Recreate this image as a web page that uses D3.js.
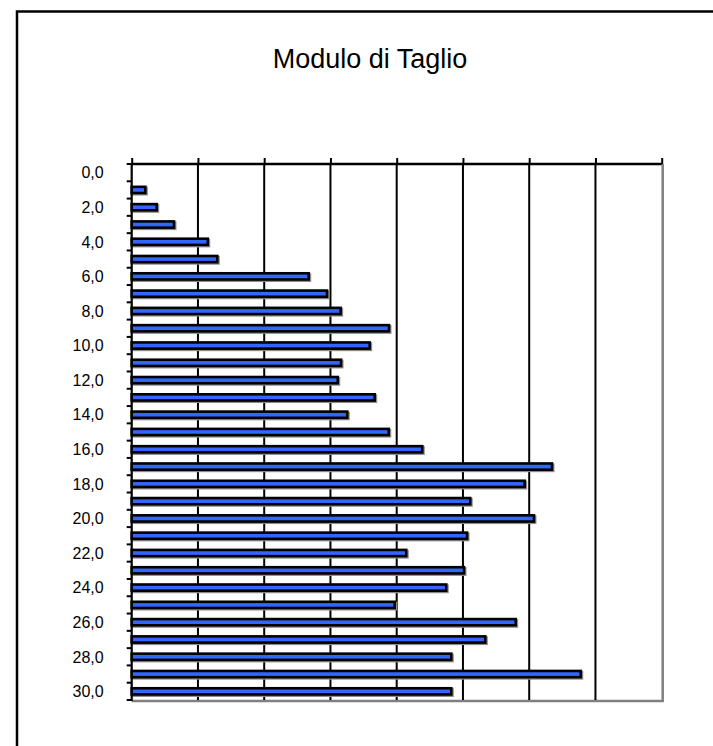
<!DOCTYPE html>
<html>
<head>
<meta charset="utf-8">
<script src="https://cdn.jsdelivr.net/npm/d3@7"></script>
<style>
  html, body { margin: 0; padding: 0; background: #fff; }
  svg { display: block; }
</style>
</head>
<body>
<script>
// Depth categories (m), one band each; labels on every second one
const depths = d3.range(0, 31);
const depthLabels = ["0,0","2,0","4,0","6,0","8,0","10,0","12,0","14,0","16,0","18,0","20,0","22,0","24,0","26,0","28,0","30,0"];
// Shear modulus per depth (no reading at 0 m)
const modulus = [null, 10.3, 18.9, 31.9, 57.4, 64.6, 133.6, 147.4, 157.7, 194.2, 179.6,
                 158.0, 155.5, 183.4, 162.7, 194.0, 219.3, 317.2, 296.6, 255.5, 303.6,
                 253.1, 207.2, 250.8, 237.4, 198.5, 289.8, 266.9, 241.2, 338.9, 241.2];
const gridValues = [0, 50, 100, 150, 200, 250, 300, 350, 400];

const W = 713, H = 746;
const plot = { left: 131.7, right: 661.7, top: 164, bottom: 700 };

const svg = d3.select("body").append("svg").attr("width", W).attr("height", H);

// Outer chart frame
svg.append("path")
  .attr("d", `M17,${H + 5} L17,11.5 L${W + 5},11.5`)
  .attr("fill", "none").attr("stroke", "#000").attr("stroke-width", 2.5);

svg.append("text")
  .attr("x", 370).attr("y", 68)
  .attr("text-anchor", "middle")
  .attr("font-family", "Arial, 'Liberation Sans', sans-serif")
  .attr("font-size", 27)
  .attr("fill", "#000")
  .text("Modulo di Taglio");

const x = d3.scaleLinear().domain([0, 400]).range([plot.left, plot.right]);
const y = d3.scaleBand().domain(depths).range([plot.top, plot.bottom]).paddingInner(0.64).paddingOuter(0.32);

// Plot-area shadow border (right and bottom)
svg.append("path")
  .attr("d", `M${plot.right + 1},${plot.top} L${plot.right + 1},${plot.bottom + 1} L${plot.left},${plot.bottom + 1}`)
  .attr("fill", "none").attr("stroke", "#808080").attr("stroke-width", 2.5);

// Vertical gridlines
svg.append("g").selectAll("line")
  .data(gridValues.slice(1, -1))
  .join("line")
  .attr("x1", d => x(d)).attr("x2", d => x(d))
  .attr("y1", plot.top).attr("y2", plot.bottom)
  .attr("stroke", "#000").attr("stroke-width", 2);

// Bars: grey drop shadow, then blue fill with heavy black outline
const barData = depths.map((d, i) => ({ depth: d, value: modulus[i] })).filter(d => d.value != null);
const bars = svg.append("g");
bars.selectAll("rect.shadow")
  .data(barData)
  .join("rect").attr("class", "shadow")
  .attr("x", x(0) + 1.2)
  .attr("y", d => y(d.depth) + 1.2)
  .attr("width", d => x(d.value) - x(0))
  .attr("height", y.bandwidth())
  .attr("fill", "none").attr("stroke", "#8c8c8c").attr("stroke-width", 2.6);
bars.selectAll("rect.bar")
  .data(barData)
  .join("rect").attr("class", "bar")
  .attr("x", x(0))
  .attr("y", d => y(d.depth))
  .attr("width", d => x(d.value) - x(0))
  .attr("height", y.bandwidth())
  .attr("fill", "#3366ff").attr("stroke", "#000").attr("stroke-width", 2.6);

// Top value axis: tick marks pointing up, no labels
const xAxis = svg.append("g")
  .attr("transform", `translate(0,${plot.top})`)
  .call(d3.axisTop(x).tickValues(gridValues).tickSize(6).tickFormat(""));
xAxis.select(".domain").attr("stroke", "#000").attr("stroke-width", 2.5).attr("d", `M${plot.left},0H${plot.right}`);
xAxis.selectAll(".tick line").attr("stroke", "#000").attr("stroke-width", 2);

// Left depth axis: ticks between bands, labels every second band
const yAxis = svg.append("g").attr("transform", `translate(${plot.left},0)`);
const boundaries = d3.range(0, depths.length + 1).map(i => plot.top + i * (plot.bottom - plot.top) / depths.length);
yAxis.append("line")
  .attr("x1", 0).attr("x2", 0).attr("y1", plot.top).attr("y2", plot.bottom + 1)
  .attr("stroke", "#000").attr("stroke-width", 2.2);
yAxis.selectAll("line.tick")
  .data(boundaries)
  .join("line").attr("class", "tick")
  .attr("x1", -5).attr("x2", 0)
  .attr("y1", d => d).attr("y2", d => d)
  .attr("stroke", "#000").attr("stroke-width", 2);
yAxis.selectAll("text")
  .data(depthLabels)
  .join("text")
  .attr("x", -28)
  .attr("y", (d, i) => y(i * 2) + y.bandwidth() / 2)
  .attr("dy", "0.36em")
  .attr("text-anchor", "end")
  .attr("font-family", "Arial, 'Liberation Sans', sans-serif")
  .attr("font-size", 16)
  .attr("fill", "#000")
  .text(d => d);
</script>
</body>
</html>
